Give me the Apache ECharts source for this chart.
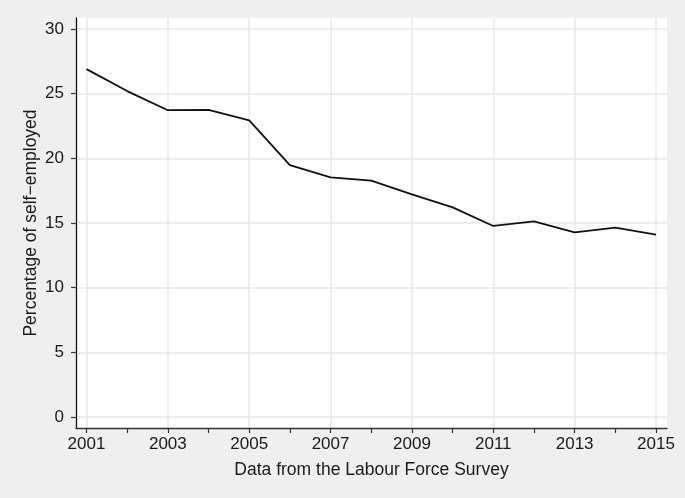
<!DOCTYPE html>
<html>
<head>
<meta charset="utf-8">
<script src="https://cdn.jsdelivr.net/npm/echarts@6/dist/echarts.min.js"></script>
<style>
html,body{margin:0;padding:0;background:#efefef;}
#chart{width:685px;height:498px;}
</style>
</head>
<body>
<div id="chart"></div>
<script>
const years = [2001,2002,2003,2004,2005,2006,2007,2008,2009,2010,2011,2012,2013,2014,2015];
const selfEmployedPct = [26.9,25.2,23.72,23.75,22.94,19.48,18.53,18.27,17.22,16.21,14.77,15.13,14.28,14.64,14.10];
const xLabelYears = [2001,2003,2005,2007,2009,2011,2013,2015];
const yTicks = [0,5,10,15,20,25,30];
const xTitle = 'Data from the Labour Force Survey';
const yTitle = 'Percentage of self\u2212employed';

const font = '"Liberation Sans", Arial, Helvetica, sans-serif';
const chart = echarts.init(document.getElementById('chart'), null, {renderer:'canvas'});
const xMin = 2000.742, xMax = 2015.27;
chart.setOption({
  backgroundColor:'#efefef',
  animation:false,
  grid:{left:76,right:18,top:18,bottom:70,show:true,backgroundColor:'#ffffff',borderWidth:0,containLabel:false},
  xAxis:[{
    type:'value',min:xMin,max:xMax,
    name:xTitle,nameLocation:'middle',nameGap:33,nameMoveOverlap:false,
    nameTextStyle:{fontFamily:font,fontSize:17.5,color:'#1a1a1a'},
    axisLine:{show:true,onZero:false,lineStyle:{color:'#333',width:1.3}},
    axisTick:{show:true,length:5,lineStyle:{color:'#333',width:1.2},customValues:years},
    axisLabel:{show:true,margin:8,fontFamily:font,fontSize:17,color:'#1a1a1a',customValues:xLabelYears,formatter:v=>String(Math.round(v))},
    splitLine:{show:false}
  },{
    type:'value',min:xMin,max:xMax,position:'bottom',
    axisLine:{show:false,onZero:false},
    axisTick:{show:false,customValues:xLabelYears},
    axisLabel:{show:false},
    splitLine:{show:true,lineStyle:{color:'#e9e9e9',width:1.5}}
  }],
  yAxis:{
    type:'value',min:-0.85,max:30.85,
    name:yTitle,nameLocation:'middle',nameGap:36,nameRotate:90,nameMoveOverlap:false,
    nameTextStyle:{fontFamily:font,fontSize:17.5,color:'#1a1a1a'},
    axisLine:{show:true,onZero:false,lineStyle:{color:'#111',width:1.3}},
    axisTick:{show:true,length:5,lineStyle:{color:'#333',width:1.2},customValues:yTicks},
    axisLabel:{show:true,margin:12,fontFamily:font,fontSize:17,color:'#1a1a1a',customValues:yTicks},
    splitLine:{show:true,lineStyle:{color:'#e9e9e9',width:1.5}}
  },
  series:[{
    type:'line',xAxisIndex:0,
    data:years.map((y,i)=>[y,selfEmployedPct[i]]),
    showSymbol:false,symbol:'none',
    lineStyle:{color:'#111',width:1.8},
    silent:true
  }]
});
</script>
</body>
</html>
